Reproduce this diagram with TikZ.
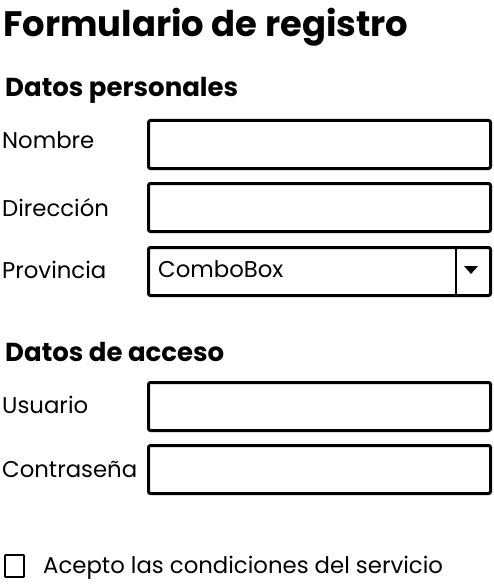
\documentclass[tikz,border=0pt]{standalone}
\usepackage{fontspec}
\setmainfont{Poppins}
\usepackage{xcolor}
\usepackage{tikz}
\usetikzlibrary{positioning}
\definecolor{ink}{HTML}{000000}
\definecolor{paper}{HTML}{FFFFFF}
\tikzset{
  field/.style={draw=ink, line width=3pt, rounded corners=2pt, anchor=north west,
    minimum width=342pt, minimum height=48pt, inner sep=0pt},
  lbl/.style={text=ink, anchor=base west, inner sep=0pt, font=\fontsize{22.8}{26}\selectfont},
  heading/.style={text=ink, anchor=base west, inner sep=0pt, font=\fontsize{26}{30}\selectfont\bfseries},
  title/.style={text=ink, anchor=base west, inner sep=0pt, font=\fontsize{35.4}{40}\selectfont\bfseries},
  check/.style={draw=ink, line width=1.6pt, rounded corners=0.5pt}
}

\begin{document}
\begin{tikzpicture}[x=1pt, y=-1pt]
  \useasboundingbox[fill=paper] (0,0) rectangle (494,588);

  \node[title] (titulo) at (3,37) {Formulario de registro};

  \node[heading] (personales) at (5,97) {Datos personales};
  \node[lbl] (nombre) at (2,149) {Nombre};
  \node[field] (nombreBox) at (147,119) {};
  \node[lbl] (direccion) at (2,216) {Dirección};
  \node[field] (direccionBox) at (147,182) {};
  \node[lbl] (provincia) at (2,278) {Provincia};
  \node[field] (provinciaBox) at (147,246) {};
  \node[lbl] (combo) at (158,277) {ComboBox};
  \draw[draw=ink, line width=2pt] (456,246) -- (456,294);
  \fill[ink] (464,266) -- (478,266) -- (471,274) -- cycle;

  \node[heading] (acceso) at (5,361) {Datos de acceso};
  \node[lbl] (usuario) at (2,413) {Usuario};
  \node[field] (usuarioBox) at (147,381) {};
  \node[lbl] (clave) at (2,477) {Contraseña};
  \node[field] (claveBox) at (147,444) {};

  \draw[check] (5,555) rectangle (24,577);
  \node[lbl] (acepto) at (43,573) {Acepto las condiciones del servicio};
\end{tikzpicture}
\end{document}
